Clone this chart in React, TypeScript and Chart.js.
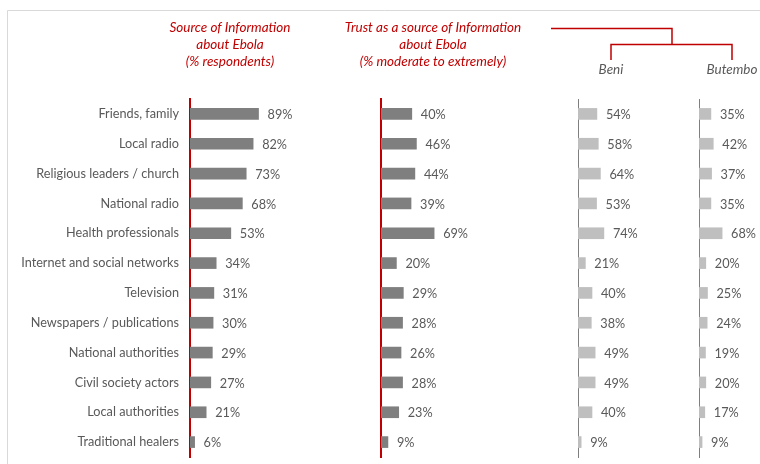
import React, { useEffect, useRef } from "react";
import { Chart, registerables } from "chart.js";

Chart.register(...registerables);

const categories = [
  "Friends, family",
  "Local radio",
  "Religious leaders / church",
  "National radio",
  "Health professionals",
  "Internet and social networks",
  "Television",
  "Newspapers / publications",
  "National authorities",
  "Civil society actors",
  "Local authorities",
  "Traditional healers",
];
const sourcePct = [89, 82, 73, 68, 53, 34, 31, 30, 29, 27, 21, 6];
const trustPct = [40, 46, 44, 39, 69, 20, 29, 28, 26, 28, 23, 9];
const beniPct = [54, 58, 64, 53, 74, 21, 40, 38, 49, 49, 40, 9];
const butemboPct = [35, 42, 37, 35, 68, 20, 25, 24, 19, 20, 17, 9];

const sourceTitle = ["Source of Information", "about Ebola", "(% respondents)"];
const trustTitle = ["Trust as a source of Information", "about Ebola", "(% moderate to extremely)"];
const cityTitles = ["Beni", "Butembo"];

const RED = "#c00000";
const TEXT = "#595959";
const FONT = "Lato, 'Open Sans', sans-serif";

type Panel = {
  data: number[];
  color: string;
  axisColor: string;
  axisWidth: number;
  axisX: number;
  fullWidth: number;
  showLabels: boolean;
  decor: boolean;
};

const panels: Panel[] = [
  { data: sourcePct, color: "#7f7f7f", axisColor: RED, axisWidth: 2, axisX: 190, fullWidth: 77, showLabels: true, decor: true },
  { data: trustPct, color: "#7f7f7f", axisColor: RED, axisWidth: 2, axisX: 381, fullWidth: 77, showLabels: false, decor: false },
  { data: beniPct, color: "#bfbfbf", axisColor: "#7f7f7f", axisWidth: 1, axisX: 578, fullWidth: 35, showLabels: false, decor: false },
  { data: butemboPct, color: "#bfbfbf", axisColor: "#7f7f7f", axisWidth: 1, axisX: 699, fullWidth: 34, showLabels: false, decor: false },
];

const W = 760;
const H = 464;

const decorPlugin = {
  id: "decor",
  beforeDraw(chart: any) {
    const ctx = chart.ctx;
    ctx.save();
    ctx.strokeStyle = "#d9d9d9";
    ctx.lineWidth = 1;
    ctx.beginPath();
    ctx.moveTo(7.5, H + 5);
    ctx.lineTo(7.5, 10.5);
    ctx.lineTo(W + 5, 10.5);
    ctx.stroke();
    ctx.restore();
  },
  afterDraw(chart: any) {
    const ctx = chart.ctx;
    ctx.save();
    ctx.font = `italic 13.5px ${FONT}`;
    ctx.textAlign = "center";
    ctx.textBaseline = "middle";
    ctx.fillStyle = RED;
    sourceTitle.forEach((t, i) => ctx.fillText(t, 230, 28 + i * 17));
    trustTitle.forEach((t, i) => ctx.fillText(t, 433, 28 + i * 17));
    ctx.fillStyle = TEXT;
    ctx.fillText(cityTitles[0], 611, 70);
    ctx.fillText(cityTitles[1], 732, 70);
    ctx.strokeStyle = RED;
    ctx.lineWidth = 1.5;
    ctx.beginPath();
    ctx.moveTo(551, 28.5);
    ctx.lineTo(672, 28.5);
    ctx.lineTo(672, 44.5);
    ctx.moveTo(611, 60);
    ctx.lineTo(611, 44.5);
    ctx.lineTo(732, 44.5);
    ctx.lineTo(732, 60);
    ctx.stroke();
    ctx.restore();
  },
};

function makeValuePlugin(values: number[]) {
  return {
    id: "values",
    afterDatasetsDraw(chart: any) {
      const ctx = chart.ctx;
      const meta = chart.getDatasetMeta(0);
      ctx.save();
      ctx.font = `12.7px ${FONT}`;
      ctx.fillStyle = TEXT;
      ctx.textAlign = "left";
      ctx.textBaseline = "middle";
      meta.data.forEach((el: any, i: number) => {
        ctx.fillText(values[i] + "%", el.x + 9, el.y + 1);
      });
      ctx.restore();
    },
  };
}

export default function App() {
  const refs = useRef<(HTMLCanvasElement | null)[]>([]);

  useEffect(() => {
    document.body.style.margin = "0";
    const charts = panels.map((p, idx) => {
      const canvas = refs.current[idx] as HTMLCanvasElement;
      const plugins: any[] = [makeValuePlugin(p.data)];
      if (p.decor) plugins.push(decorPlugin);
      return new Chart(canvas, {
        type: "bar",
        data: {
          labels: categories,
          datasets: [
            {
              data: p.data,
              backgroundColor: p.color,
              borderWidth: 0,
              barThickness: 11,
            },
          ],
        },
        options: {
          indexAxis: "y",
          responsive: false,
          animation: false,
          devicePixelRatio: 1,
          layout: {
            padding: { left: 0, right: W - (p.axisX + p.fullWidth), top: 99, bottom: 7 },
          },
          plugins: { legend: { display: false }, tooltip: { enabled: false } },
          scales: {
            x: { display: false, min: 0, max: 100 },
            y: {
              display: true,
              afterFit: (scale: any) => {
                scale.width = p.axisX;
                scale.paddingTop = 0;
                scale.paddingBottom = 0;
              },
              grid: { drawOnChartArea: false, drawTicks: false, color: "transparent" },
              border: { display: true, color: p.axisColor, width: p.axisWidth },
              ticks: {
                display: p.showLabels,
                color: TEXT,
                padding: 11,
                font: { family: FONT, size: 12.7 },
              },
            },
          },
        },
        plugins,
      } as any);
    });
    return () => charts.forEach((c) => c.destroy());
  }, []);

  return (
    <div style={{ position: "relative", width: W, height: H, background: "#ffffff", overflow: "hidden" }}>
      {panels.map((_, i) => (
        <canvas
          key={i}
          ref={(el) => {
            refs.current[i] = el;
          }}
          width={W}
          height={H}
          style={{ position: "absolute", left: 0, top: 0, width: W, height: H }}
        />
      ))}
    </div>
  );
}
